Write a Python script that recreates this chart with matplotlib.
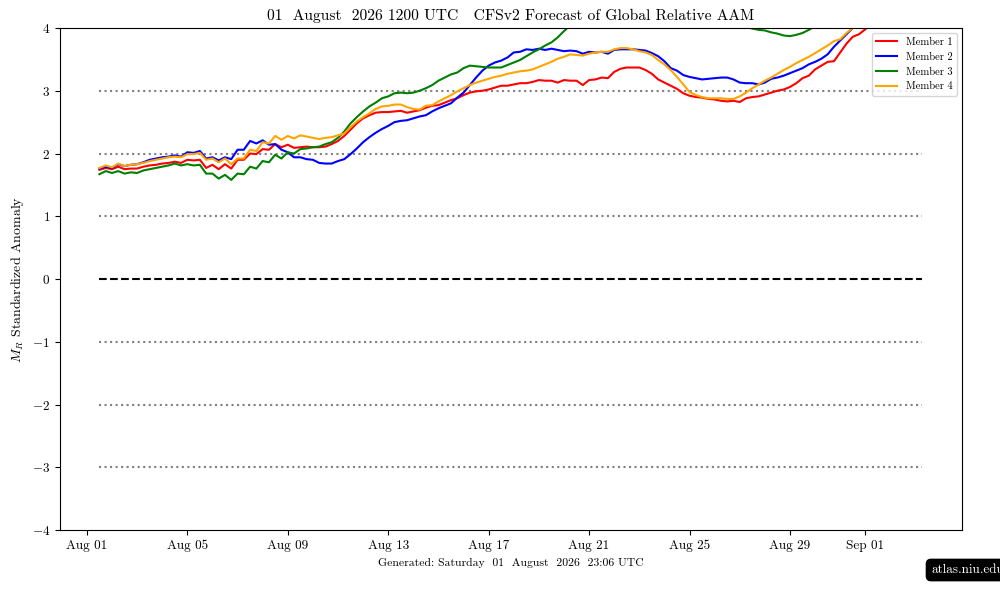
import matplotlib
matplotlib.use("Agg")
import matplotlib.pyplot as plt
import matplotlib.dates as mdates
import pandas as pd

# CM-like fonts to mimic the LaTeX look of the original
plt.rcParams['font.family'] = ['cmr10', 'DejaVu Serif']
plt.rcParams['mathtext.fontset'] = 'cm'
plt.rcParams['axes.formatter.use_mathtext'] = True

# 6-hourly forecast values, starting at the 01 Aug 2026 12 UTC initialisation
init_time = '2026-08-01 12:00'

member1 = [
    1.74, 1.77, 1.75, 1.79, 1.75, 1.76, 1.76, 1.79, 1.81, 1.82, 1.84, 1.85, 1.87, 1.85, 1.90, 1.89,
    1.90, 1.77, 1.82, 1.75, 1.83, 1.76, 1.90, 1.90, 2.00, 1.99, 2.07, 2.06, 2.15, 2.10, 2.14, 2.09,
    2.10, 2.11, 2.10, 2.10, 2.11, 2.15, 2.20, 2.28, 2.38, 2.48, 2.56, 2.61, 2.65, 2.66, 2.66, 2.67,
    2.68, 2.65, 2.67, 2.69, 2.73, 2.76, 2.77, 2.81, 2.85, 2.88, 2.93, 2.97, 2.99, 3.00, 3.02, 3.05,
    3.08, 3.08, 3.10, 3.12, 3.12, 3.14, 3.17, 3.16, 3.16, 3.13, 3.17, 3.16, 3.16, 3.09, 3.17, 3.18,
    3.21, 3.20, 3.30, 3.35, 3.37, 3.37, 3.37, 3.33, 3.27, 3.18, 3.13, 3.08, 3.03, 2.96, 2.92, 2.90,
    2.89, 2.87, 2.86, 2.84, 2.83, 2.84, 2.82, 2.88, 2.90, 2.91, 2.94, 2.97, 3.00, 3.02, 3.06, 3.12,
    3.20, 3.24, 3.34, 3.40, 3.46, 3.47, 3.61, 3.75, 3.86, 3.90, 3.98, 4.06, 4.14, 4.22, 4.30, 4.38,
    4.45, 4.52, 4.58, 4.63,
]
member2 = [
    1.76, 1.79, 1.77, 1.83, 1.80, 1.82, 1.83, 1.86, 1.90, 1.92, 1.94, 1.95, 1.97, 1.95, 2.02, 2.01,
    2.04, 1.92, 1.94, 1.89, 1.94, 1.91, 2.06, 2.06, 2.20, 2.16, 2.21, 2.14, 2.15, 2.06, 2.02, 1.94,
    1.94, 1.91, 1.90, 1.85, 1.84, 1.84, 1.88, 1.91, 1.99, 2.08, 2.18, 2.26, 2.33, 2.39, 2.44, 2.50,
    2.52, 2.53, 2.56, 2.59, 2.61, 2.67, 2.72, 2.76, 2.80, 2.89, 2.97, 3.09, 3.21, 3.32, 3.40, 3.45,
    3.48, 3.53, 3.61, 3.62, 3.66, 3.65, 3.67, 3.65, 3.67, 3.65, 3.63, 3.64, 3.63, 3.59, 3.62, 3.61,
    3.62, 3.59, 3.65, 3.66, 3.66, 3.66, 3.65, 3.64, 3.60, 3.55, 3.47, 3.36, 3.32, 3.25, 3.22, 3.20,
    3.18, 3.19, 3.20, 3.21, 3.21, 3.18, 3.13, 3.12, 3.12, 3.10, 3.13, 3.19, 3.21, 3.24, 3.28, 3.32,
    3.36, 3.42, 3.46, 3.51, 3.58, 3.70, 3.80, 3.90, 4.00, 4.08, 4.16, 4.24, 4.32, 4.40, 4.47, 4.54,
    4.60, 4.66, 4.72, 4.77,
]
member3 = [
    1.67, 1.72, 1.69, 1.72, 1.68, 1.70, 1.69, 1.73, 1.75, 1.77, 1.79, 1.81, 1.84, 1.81, 1.83, 1.81,
    1.82, 1.68, 1.68, 1.60, 1.66, 1.58, 1.68, 1.67, 1.79, 1.76, 1.88, 1.86, 1.98, 1.92, 2.02, 2.00,
    2.07, 2.08, 2.10, 2.11, 2.15, 2.18, 2.25, 2.35, 2.48, 2.58, 2.67, 2.75, 2.81, 2.88, 2.91, 2.96,
    2.97, 2.96, 2.97, 3.00, 3.04, 3.09, 3.16, 3.21, 3.26, 3.29, 3.36, 3.40, 3.39, 3.38, 3.37, 3.37,
    3.37, 3.41, 3.45, 3.49, 3.55, 3.61, 3.66, 3.72, 3.77, 3.85, 3.95, 4.04, 4.12, 4.19, 4.25, 4.31,
    4.36, 4.40, 4.43, 4.45, 4.46, 4.46, 4.45, 4.43, 4.40, 4.37, 4.33, 4.29, 4.25, 4.21, 4.17, 4.13,
    4.10, 4.08, 4.07, 4.06, 4.05, 4.05, 4.04, 4.02, 3.99, 3.97, 3.96, 3.93, 3.91, 3.88, 3.87, 3.89,
    3.92, 3.97, 4.03, 4.09, 4.15, 4.21, 4.27, 4.33, 4.39, 4.45, 4.51, 4.57, 4.63, 4.69, 4.75, 4.81,
    4.87, 4.93, 4.99, 5.04,
]
member4 = [
    1.77, 1.81, 1.78, 1.84, 1.80, 1.82, 1.83, 1.85, 1.88, 1.90, 1.92, 1.94, 1.95, 1.94, 1.99, 1.99,
    2.01, 1.90, 1.92, 1.86, 1.92, 1.83, 1.92, 1.92, 2.06, 2.04, 2.18, 2.16, 2.28, 2.22, 2.28, 2.24,
    2.29, 2.27, 2.25, 2.23, 2.25, 2.26, 2.29, 2.32, 2.42, 2.51, 2.58, 2.64, 2.71, 2.75, 2.76, 2.78,
    2.78, 2.74, 2.71, 2.70, 2.76, 2.77, 2.83, 2.88, 2.93, 2.99, 3.04, 3.09, 3.13, 3.16, 3.19, 3.22,
    3.24, 3.27, 3.29, 3.31, 3.32, 3.34, 3.38, 3.42, 3.46, 3.51, 3.54, 3.58, 3.57, 3.56, 3.59, 3.61,
    3.62, 3.62, 3.66, 3.68, 3.68, 3.66, 3.63, 3.61, 3.57, 3.49, 3.42, 3.33, 3.22, 3.10, 2.98, 2.93,
    2.90, 2.88, 2.88, 2.88, 2.87, 2.87, 2.91, 2.97, 3.04, 3.10, 3.16, 3.21, 3.27, 3.33, 3.38, 3.44,
    3.49, 3.54, 3.60, 3.66, 3.72, 3.79, 3.82, 3.92, 4.00, 4.08, 4.15, 4.22, 4.29, 4.36, 4.43, 4.50,
    4.56, 4.62, 4.68, 4.73,
]

members = [member1, member2, member3, member4]
member_names = ['Member 1', 'Member 2', 'Member 3', 'Member 4']
member_colors = ['red', 'blue', 'green', 'orange']

ref_levels = [-3, -2, -1, 1, 2, 3]
yticks = [-4, -3, -2, -1, 0, 1, 2, 3, 4]

title = '01  August  2026 1200 UTC   CFSv2 Forecast of Global Relative AAM'
footer = 'Generated: Saturday  01  August  2026  23:06 UTC'

fig = plt.figure(figsize=(10, 5.95), dpi=100)
ax = fig.add_axes([0.06, 0.109, 0.902, 0.844])

times = pd.date_range(init_time, periods=len(member1), freq='6h')

# Reference lines
ax.hlines(ref_levels, times[0], times[-1], colors='grey', linestyles=':', linewidth=1.5)
ax.hlines(0, times[0], times[-1], colors='black', linestyles='--', linewidth=1.5)

# Ensemble members
for vals, name, col in zip(members, member_names, member_colors):
    t = pd.date_range(init_time, periods=len(vals), freq='6h')
    ax.plot(t, vals, color=col, linewidth=1.5, label=name)

ax.set_ylim(-4, 4)
ax.set_yticks(yticks)
ax.set_xlim(pd.Timestamp('2026-08-01') - pd.Timedelta(days=1.07),
            pd.Timestamp('2026-08-01') + pd.Timedelta(days=34.85))
ax.xaxis.set_major_locator(mdates.DayLocator(bymonthday=[1, 5, 9, 13, 17, 21, 25, 29]))
ax.xaxis.set_major_formatter(mdates.DateFormatter('%b %d'))
ax.tick_params(labelsize=9.5)

ax.set_ylabel(r'$M_R$ Standardized Anomaly', fontsize=10)
ax.set_title(title, fontsize=11.2, pad=6)

ax.legend(loc='upper right', fontsize=7.6)

fig.text(0.511, 0.054, footer, ha='center', va='center', fontsize=8.4)
fig.text(0.931, 0.042, 'atlas.niu.edu', ha='left', va='center', fontsize=9.5, color='white',
         bbox=dict(boxstyle='round,pad=0.35', fc='black', ec='black'))

fig.savefig('out.png', dpi=100)
